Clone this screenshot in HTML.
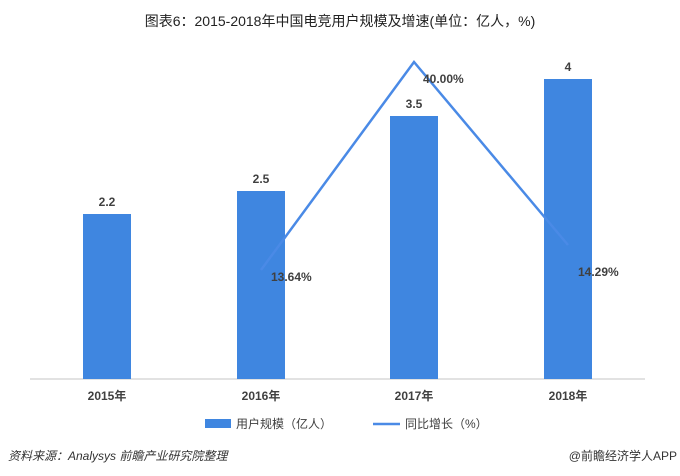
<!DOCTYPE html>
<html><head><meta charset="utf-8"><style>
body{margin:0;background:#fff;}
svg{display:block;font-family:"Liberation Sans","Noto Sans CJK SC",sans-serif;}
</style></head><body>
<svg width="680" height="476" viewBox="0 0 680 476">
<text x="340" y="26" text-anchor="middle" font-size="14" fill="#222">图表6：2015-2018年中国电竞用户规模及增速(单位：亿人，%)</text>
<line x1="30" y1="379" x2="645" y2="379" stroke="#d9d9d9" stroke-width="1.5"/>
<rect x="83" y="214" width="48" height="165" fill="#3f86e0"/>
<rect x="237" y="191" width="48" height="188" fill="#3f86e0"/>
<rect x="390" y="116" width="48" height="263" fill="#3f86e0"/>
<rect x="544" y="79" width="48" height="300" fill="#3f86e0"/>
<g font-size="12" font-weight="bold" fill="#404040" text-anchor="middle">
<text x="107" y="206">2.2</text>
<text x="261" y="183">2.5</text>
<text x="414" y="108">3.5</text>
<text x="568" y="71">4</text>
</g>
<polyline points="261,270 414,62 568,245" fill="none" stroke="#4a8ae6" stroke-width="2.5"/>
<g font-size="12" font-weight="bold" fill="#404040">
<text x="271" y="281">13.64%</text>
<text x="423" y="83">40.00%</text>
<text x="578" y="276">14.29%</text>
</g>
<g font-size="12" font-weight="bold" fill="#404040" text-anchor="middle">
<text x="107" y="400">2015年</text>
<text x="261" y="400">2016年</text>
<text x="414" y="400">2017年</text>
<text x="568" y="400">2018年</text>
</g>
<rect x="205" y="419" width="26" height="9" fill="#3f86e0"/>
<text x="236" y="428" font-size="12" fill="#404040">用户规模（亿人）</text>
<line x1="373" y1="424" x2="400" y2="424" stroke="#4a8ae6" stroke-width="2.5"/>
<text x="405" y="428" font-size="12" fill="#404040">同比增长（%）</text>
<text x="8" y="460" font-size="12" font-style="italic" fill="#333">资料来源：Analysys 前瞻产业研究院整理</text>
<text x="677" y="460" font-size="12" text-anchor="end" fill="#333">@前瞻经济学人APP</text>
</svg>
</body></html>
